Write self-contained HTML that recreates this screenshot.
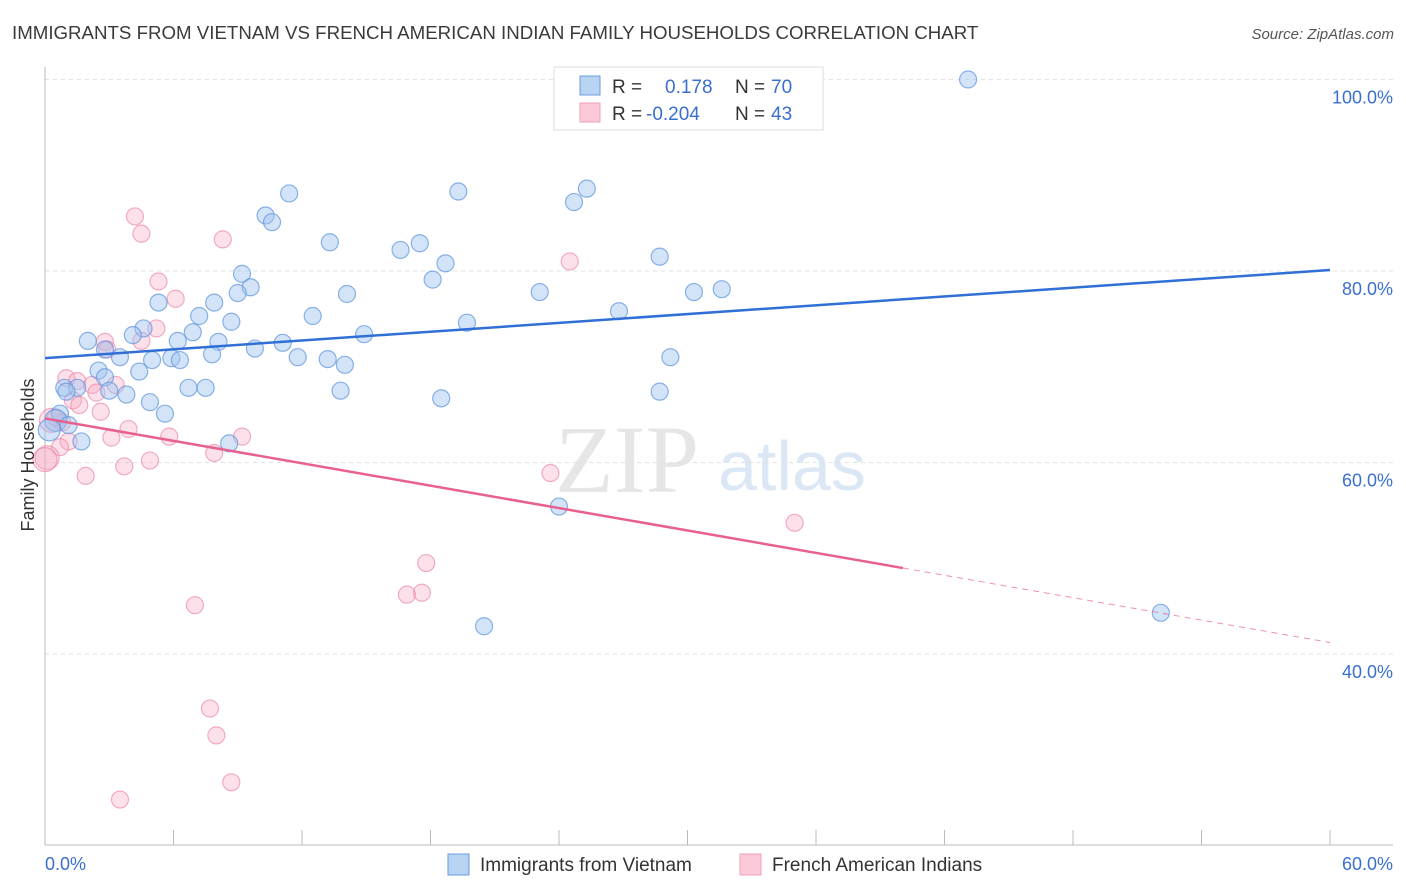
<!DOCTYPE html>
<html><head><meta charset="utf-8"><style>
body{margin:0;background:#fff;font-family:"Liberation Sans",sans-serif;}
#wrap{position:relative;width:1406px;height:892px;overflow:hidden;}
</style></head><body>
<div id="wrap">
<svg id="svg" width="1406" height="892" xmlns="http://www.w3.org/2000/svg">
<text x="12" y="39" font-size="18.7" fill="#3a3a3a">IMMIGRANTS FROM VIETNAM VS FRENCH AMERICAN INDIAN FAMILY HOUSEHOLDS CORRELATION CHART</text>
<text x="1394" y="39" font-size="15" fill="#555" font-style="italic" text-anchor="end">Source: ZipAtlas.com</text>
<g>
<text x="555" y="492" font-size="96" font-family="Liberation Serif,serif" fill="#dedede" opacity="0.75">ZIP</text>
<text x="718" y="490" font-size="70" fill="#cfdff2" opacity="0.75">atlas</text>
</g>
<g id="grid"></g><g id="axes"></g><g id="pts"></g><g id="lines"></g>
<text transform="translate(34,455) rotate(-90)" font-size="18" fill="#333" text-anchor="middle">Family Households</text>
<g>
<rect x="554" y="67" width="269" height="63" fill="#fff" stroke="#ddd"/>
<rect x="580" y="76" width="20" height="19" fill="#b9d3f3" stroke="#6a9ee0"/>
<rect x="580" y="103" width="20" height="19" fill="#fbc9d8" stroke="#f0a0b8"/>
<text x="612" y="93" font-size="19" fill="#333">R =</text>
<text x="665" y="93" font-size="19" fill="#3a6fd0">0.178</text>
<text x="735" y="93" font-size="19" fill="#333">N =</text>
<text x="771" y="93" font-size="19" fill="#3a6fd0">70</text>
<text x="612" y="120" font-size="19" fill="#333">R =</text>
<text x="646" y="120" font-size="19" fill="#3a6fd0">-0.204</text>
<text x="735" y="120" font-size="19" fill="#333">N =</text>
<text x="771" y="120" font-size="19" fill="#3a6fd0">43</text>
</g>
<g>
<rect x="448" y="854" width="21" height="21" fill="#b9d3f3" stroke="#6a9ee0"/>
<text x="480" y="871" font-size="19" fill="#333">Immigrants from Vietnam</text>
<rect x="740" y="854" width="21" height="21" fill="#fbc9d8" stroke="#f0a0b8"/>
<text x="772" y="871" font-size="19" fill="#333">French American Indians</text>
</g>
</svg>
</div>
<script>
const blueX=[43.1,11.4,19.3,25.3,24.7,10.3,10.6,13.3,17.5,16.6,28.7,18.7,9.2,9.6,9.0,18.1,14.1,23.1,30.3,31.6,5.3,7.9,26.8,12.5,7.2,8.7,19.7,4.6,4.1,6.9,14.9,2.0,6.2,8.1,11.1,9.8,2.8,3.5,7.8,5.0,5.9,6.3,11.8,13.2,14.0,29.2,4.4,2.5,2.8,0.9,1.5,6.7,7.5,13.8,3.0,3.8,28.7,4.9,18.5,5.6,0.7,0.5,1.1,0.2,1.7,8.6,24.0,20.5,52.1,1.0];
const blueY=[100.0,88.1,88.3,88.6,87.2,85.8,85.1,83.0,82.9,82.2,81.5,80.8,79.7,78.3,77.7,79.1,77.6,77.8,77.8,78.1,76.7,76.7,75.8,75.3,75.3,74.7,74.6,74.0,73.3,73.6,73.4,72.7,72.7,72.6,72.5,71.9,71.8,71.0,71.3,70.7,70.9,70.7,71.0,70.8,70.2,71.0,69.5,69.6,68.9,67.8,67.8,67.8,67.8,67.5,67.5,67.1,67.4,66.3,66.7,65.1,65.1,64.4,63.9,63.4,62.2,62.0,55.4,42.9,44.3,67.4];
const pinkX=[4.2,4.5,8.3,24.5,5.3,6.1,5.2,4.5,2.8,2.9,1.0,1.5,2.2,3.3,2.4,1.3,1.6,2.6,0.5,0.8,3.9,3.1,1.1,5.8,9.2,7.9,0.7,0.1,4.9,3.7,1.9,23.6,35.0,17.8,17.6,16.9,7.0,7.7,8.0,8.7,3.5,0.0,0.3];
const pinkY=[85.7,83.9,83.3,81.0,78.9,77.1,74.0,72.7,72.6,71.8,68.8,68.5,68.1,68.1,67.3,66.5,66.0,65.3,64.7,64.2,63.5,62.6,62.2,62.7,62.7,61.0,61.6,60.5,60.2,59.6,58.6,58.9,53.7,49.5,46.4,46.2,45.1,34.3,31.5,26.6,24.8,60.3,64.4];
const blueTrend=[70.9,80.1];
const pinkTrend=[64.6,41.2];
const yTicks=[40,60,80,100];
const yTickLabels=["40.0%","60.0%","80.0%","100.0%"];
const xTicks=[0,6,12,18,24,30,36,42,48,54,60];

const NS="http://www.w3.org/2000/svg";
const sx=v=>45+v*21.417;
const sy=v=>79.5+(100-v)*9.575;
function mk(tag,attrs,parent){const e=document.createElementNS(NS,tag);for(const k in attrs)e.setAttribute(k,attrs[k]);document.getElementById(parent).appendChild(e);return e;}

yTicks.forEach((t,i)=>{
  const g=mk('line',{x1:45,x2:1393,y1:sy(t),y2:sy(t),stroke:'#e2e2e2','stroke-dasharray':'4,4'},'grid');
  
  
  const l=mk('text',{x:1393,y:sy(t)+24,'font-size':18,fill:'#3a6fd0','text-anchor':'end'},'grid');
  l.textContent=yTickLabels[i];
  
  
});
let a=mk('line',{x1:45,x2:45,y1:67,y2:845,stroke:'#bbb'},'axes');


a=mk('line',{x1:45,x2:1393,y1:845,y2:845,stroke:'#bbb'},'axes');


xTicks.forEach(t=>{
  const k=mk('line',{x1:sx(t),x2:sx(t),y1:830,y2:845,stroke:'#bbb'},'axes');
  
  
});
let xl=mk('text',{x:45,y:870,'font-size':18,fill:'#3a6fd0'},'axes');xl.textContent='0.0%';


xl=mk('text',{x:1393,y:870,'font-size':18,fill:'#3a6fd0','text-anchor':'end'},'axes');xl.textContent='60.0%';



pinkX.forEach((x,i)=>{
  const c=mk('circle',{cx:sx(x),cy:sy(pinkY[i]),r:(x<0.5?12:8.5),fill:'rgba(246,170,196,0.35)',stroke:'rgba(236,140,170,0.7)','stroke-width':1.2},'pts');
  
  
});
blueX.forEach((x,i)=>{
  const c=mk('circle',{cx:sx(x),cy:sy(blueY[i]),r:(x<0.6?11:8.5),fill:'rgba(160,196,240,0.45)',stroke:'rgba(100,152,222,0.75)','stroke-width':1.2},'pts');
  
  
});
let ln=mk('line',{x1:sx(0),y1:sy(blueTrend[0]),x2:sx(60),y2:sy(blueTrend[1]),stroke:'#2f6fd6','stroke-width':2.5},'lines');


const pAt=x=>pinkTrend[0]+(pinkTrend[1]-pinkTrend[0])*x/60;
ln=mk('line',{x1:sx(0),y1:sy(pAt(0)),x2:sx(40.06),y2:sy(pAt(40.06)),stroke:'#e8608f','stroke-width':2.5},'lines');


ln=mk('line',{x1:sx(40.06),y1:sy(pAt(40.06)),x2:sx(60),y2:sy(pAt(60)),stroke:'#e8608f','stroke-width':1,'stroke-dasharray':'6,5',opacity:0.7},'lines');


</script>
</body></html>
